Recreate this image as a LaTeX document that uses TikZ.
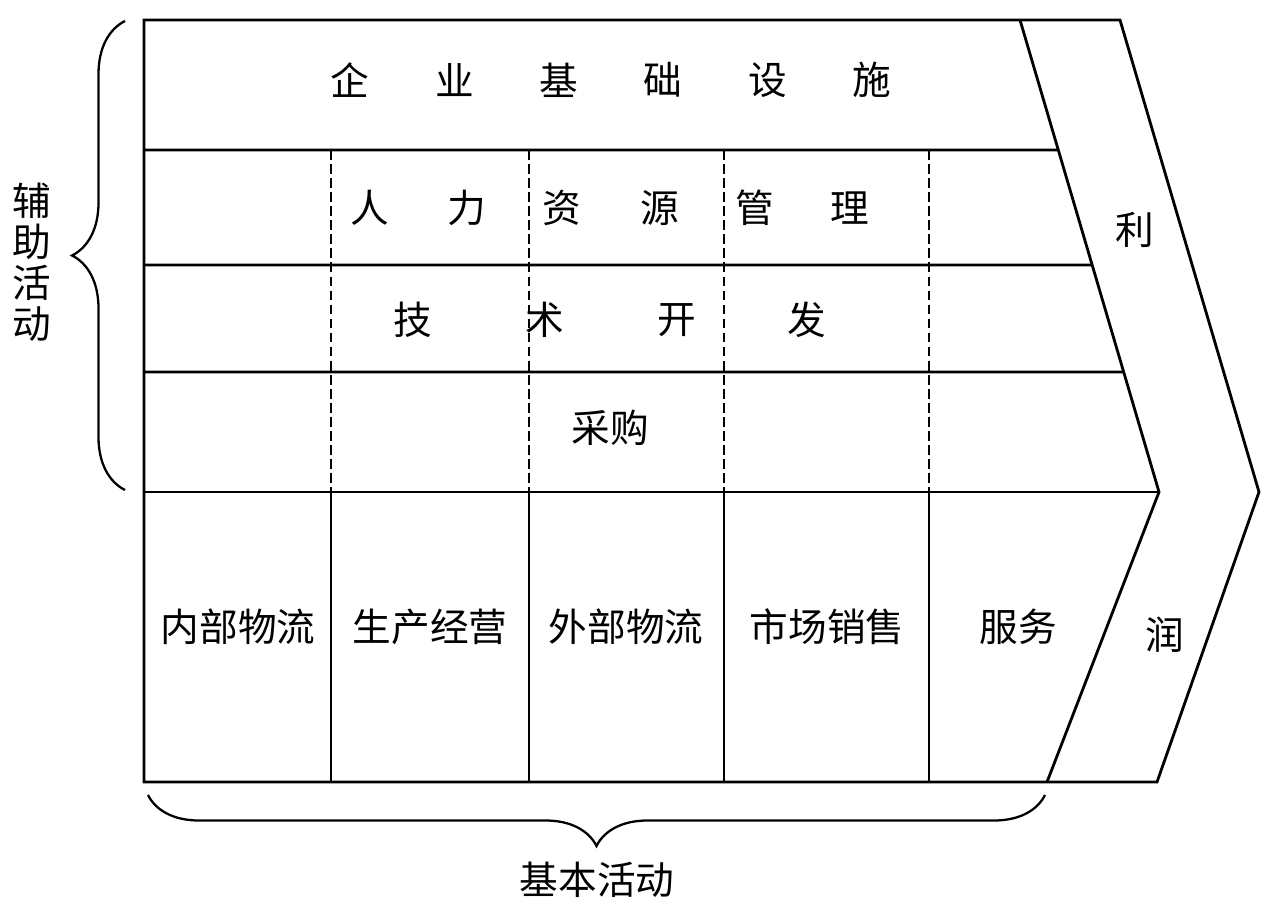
\documentclass[tikz,border=0pt]{standalone}
\usepackage{fontspec}
\usepackage{tikz}
\usetikzlibrary{calc,decorations.pathreplacing}
\newfontfamily\cjk{Noto Sans CJK SC}

\begin{document}
\begin{tikzpicture}[x=0.02cm, y=-0.02cm, line width=1.6pt,
    txt/.style={font=\cjk\fontsize{22}{23.3}\selectfont, inner sep=0pt},
    brc/.style={decorate, decoration={brace, amplitude=#1}, line width=1.3pt}]
    \useasboundingbox (0,0) rectangle (1280,922);

    \coordinate (T1) at (144, 20);
    \coordinate (T2) at (1020, 20);
    \coordinate (T3) at (1120, 20);
    \coordinate (M1) at (144, 492);
    \coordinate (M2) at (1159, 492);
    \coordinate (M3) at (1259, 492);
    \coordinate (B1) at (144, 782);
    \coordinate (B2) at (1047, 782);
    \coordinate (B3) at (1157, 782);

    \draw (B1) -- (T1) -- (T3) -- (M3) -- (B3) -- cycle;
    \draw (T2) -- (M2) -- (B2);
    \draw (M1) -- (M2);
    \foreach \y in {150, 265, 372}
        \draw (144, \y) -- ($(T2)!{(\y-20)/472}!(M2)$);
    \foreach \x in {331, 529, 724, 929} {
        \draw (\x, 492) -- (\x, 782);
        \draw[line width=1.2pt, dash pattern=on 5.5pt off 2.5pt] (\x, 150) -- (\x, 492);
    }

    \foreach \c [count=\i] in {企,业,基,础,设,施}
        \node[txt] (ent\i) at ({350+104.4*(\i-1)}, 80) {\c};
    \foreach \c/\x [count=\i] in {人/370, 力/467, 资/562, 源/660, 管/755, 理/850}
        \node[txt] (hr\i) at (\x, 208) {\c};
    \foreach \c/\x [count=\i] in {技/413, 术/545, 开/677, 发/807}
        \node[txt] (tech\i) at (\x, 320) {\c};
    \node[txt] (buy) at (610, 428) {采购};
    \foreach \c/\x [count=\i] in {内部物流/238, 生产经营/430, 外部物流/626, 市场销售/827, 服务/1018}
        \node[txt] (prim\i) at (\x, 627) {\c};
    \node[txt] (li) at (1135, 230) {利};
    \node[txt] (run) at (1165, 635) {润};

    \draw[brc=1.06cm] (125, 490) -- (125, 21);
    \draw[brc=1.02cm] (1045, 795) -- (148, 795);
    \node[txt, align=center] (aux) at (32, 262) {辅\\助\\活\\动};
    \node[txt] (basic) at (597, 880) {基本活动};
\end{tikzpicture}
\end{document}
